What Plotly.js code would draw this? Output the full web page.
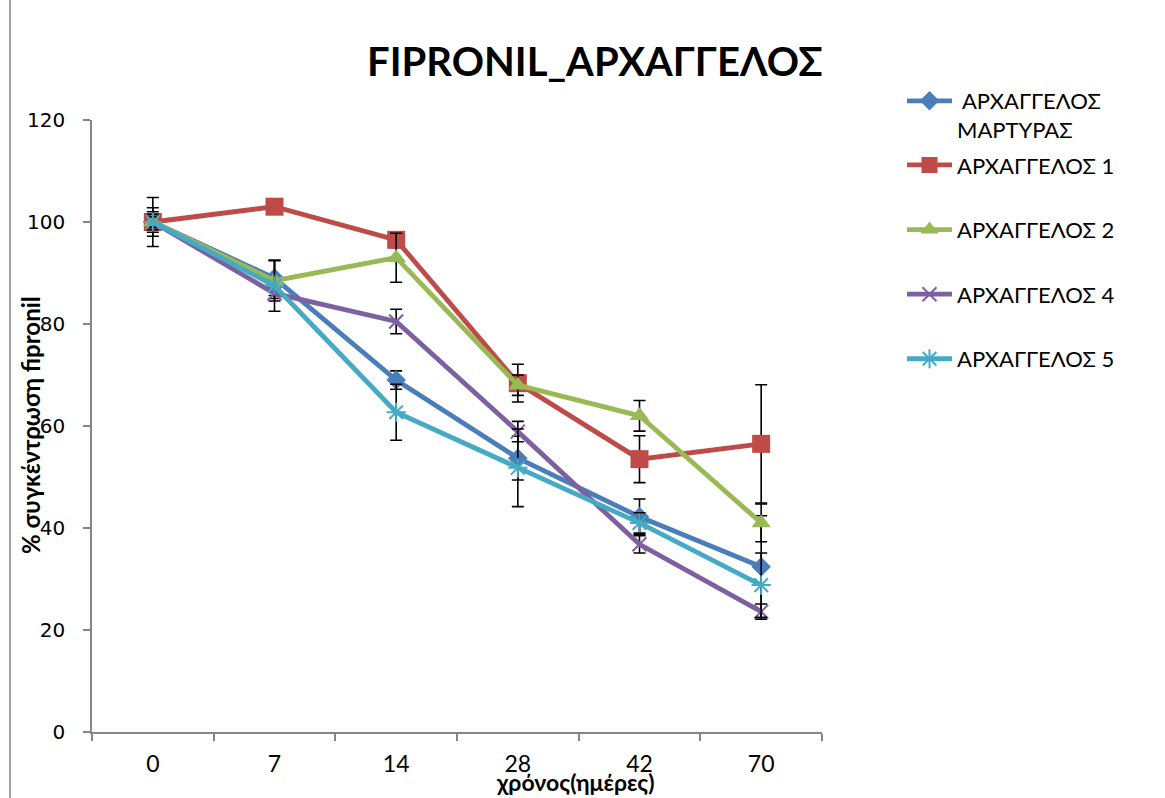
<!DOCTYPE html>
<html>
<head>
<meta charset="utf-8">
<script src="https://cdn.plot.ly/plotly-3.0.1.min.js"></script>
<style>html,body{margin:0;padding:0;background:#fff;}#chart{width:1165px;height:798px;}</style>
</head>
<body>
<div id="chart"></div>
<script>
const days = ['0', '7', '14', '28', '42', '70'];
const seriesNames = [' ΑΡΧΑΓΓΕΛΟΣ<br>ΜΑΡΤΥΡΑΣ', 'ΑΡΧΑΓΓΕΛΟΣ 1', 'ΑΡΧΑΓΓΕΛΟΣ 2', 'ΑΡΧΑΓΓΕΛΟΣ 4', 'ΑΡΧΑΓΓΕΛΟΣ 5'];
const martyras = [100, 89, 69, 53.7, 42.2, 32.4];
const martyrasErr = [4.8, 3.4, 1.8, 4.3, 3.5, 10];
const arx1 = [100, 103, 96.5, 68.4, 53.5, 56.5];
const arx1Err = [2.8, 1, 1.5, 3.7, 4.6, 11.6];
const arx2 = [100, 88.5, 93, 68, 62, 41];
const arx2Err = [1.5, 4, 4.8, 2, 3, 3.7];
const arx4 = [100, 86, 80.5, 58.9, 36.8, 23.6];
const arx4Err = [1, 1, 2.4, 2, 1.7, 1.5];
const arx5 = [100, 87.5, 62.7, 51.8, 41, 28.8];
const arx5Err = [2, 5, 5.5, 7.6, 2, 6.3];
const yTicks = [0, 20, 40, 60, 80, 100, 120];

const values = [martyras, arx1, arx2, arx4, arx5];
const errs = [martyrasErr, arx1Err, arx2Err, arx4Err, arx5Err];
const colors = ['#4A7EBB', '#BE4B48', '#98B954', '#7D60A0', '#46AAC5'];
const markers = [
  {symbol: 'diamond', size: 15},
  {symbol: 'square', size: 18},
  {symbol: 'triangle-up', size: 17},
  {symbol: 'x-thin-open', size: 14},
  {symbol: 'asterisk-open', size: 16}
];

const traces = values.map((v, i) => ({
  type: 'scatter',
  mode: 'lines+markers',
  x: days,
  y: v,
  name: seriesNames[i],
  legend: i === 0 ? 'legend' : 'legend2',
  legendgroup: 'g' + i,
  line: {color: colors[i], width: 4.8},
  marker: {
    symbol: markers[i].symbol,
    size: markers[i].size,
    color: colors[i],
    line: {color: colors[i], width: (markers[i].symbol.indexOf('open') >= 0) ? 2 : 0}
  },
  error_y: {type: 'data', array: errs[i], visible: true, color: '#000000', thickness: 1.6, width: 6}
}));

const legendFont = {family: 'Lato, "Open Sans", sans-serif', size: 22, color: '#000000'};

const layout = {
  width: 1165,
  height: 798,
  margin: {l: 92, r: 343, t: 120, b: 66},
  paper_bgcolor: '#ffffff',
  plot_bgcolor: '#ffffff',
  font: {family: 'Lato, "Open Sans", sans-serif', color: '#000000', size: 20},
  title: {
    text: '<b>FIPRONIL_ΑΡΧΑΓΓΕΛΟΣ</b>',
    font: {family: 'Lato, "Open Sans", sans-serif', size: 40, color: '#000000'},
    xref: 'paper', x: 0.689, xanchor: 'center',
    yref: 'container', y: 0.922, yanchor: 'middle'
  },
  xaxis: {
    type: 'category',
    range: [-0.5, 5.5],
    tickson: 'boundaries',
    ticks: 'outside',
    ticklen: 7,
    tickcolor: '#868686',
    tickwidth: 1.5,
    showline: true,
    linecolor: '#868686',
    linewidth: 1.5,
    showgrid: false,
    zeroline: false,
    ticklabelstandoff: 11,
    tickfont: {family: 'Lato, "Open Sans", sans-serif', size: 23, color: '#000000'}
  },
  yaxis: {
    range: [0, 120],
    tickvals: yTicks,
    ticks: 'outside',
    ticklen: 7,
    tickcolor: '#868686',
    tickwidth: 1.5,
    showline: true,
    linecolor: '#868686',
    linewidth: 1.5,
    showgrid: false,
    zeroline: false,
    ticklabelstandoff: 14,
    tickfont: {family: '"DejaVu Sans", sans-serif', size: 20, color: '#000000'}
  },
  showlegend: true,
  legend: {
    x: 1.1096, xanchor: 'left',
    y: 1.0653, yanchor: 'top',
    valign: 'top',
    itemwidth: 45,
    font: legendFont,
    bgcolor: 'rgba(0,0,0,0)'
  },
  legend2: {
    x: 1.1096, xanchor: 'left',
    y: 0.9605, yanchor: 'top',
    traceorder: 'grouped',
    tracegroupgap: 33,
    itemwidth: 45,
    font: legendFont,
    bgcolor: 'rgba(0,0,0,0)'
  },
  annotations: [
    {
      text: '<b>% συγκέντρωση fipronil</b>',
      xref: 'paper', yref: 'paper',
      x: -0.085, y: 0.5016,
      xanchor: 'center', yanchor: 'middle',
      textangle: -90, showarrow: false,
      font: {family: 'Lato, "Open Sans", sans-serif', size: 24, color: '#000000'}
    },
    {
      text: '<b>χρόνος(ημέρες)</b>',
      xref: 'paper', yref: 'paper',
      x: 0.663, y: -0.1075,
      xanchor: 'center', yanchor: 'bottom',
      showarrow: false,
      font: {family: 'Lato, "Open Sans", sans-serif', size: 23, color: '#000000'}
    }
  ],
  shapes: [
    {type: 'line', xref: 'paper', yref: 'paper', x0: -0.1123, x1: -0.1123, y0: -0.2, y1: 1.3,
     line: {color: '#868686', width: 1.5}}
  ]
};

Plotly.newPlot('chart', traces, layout, {displayModeBar: false, responsive: false});
</script>
</body>
</html>
